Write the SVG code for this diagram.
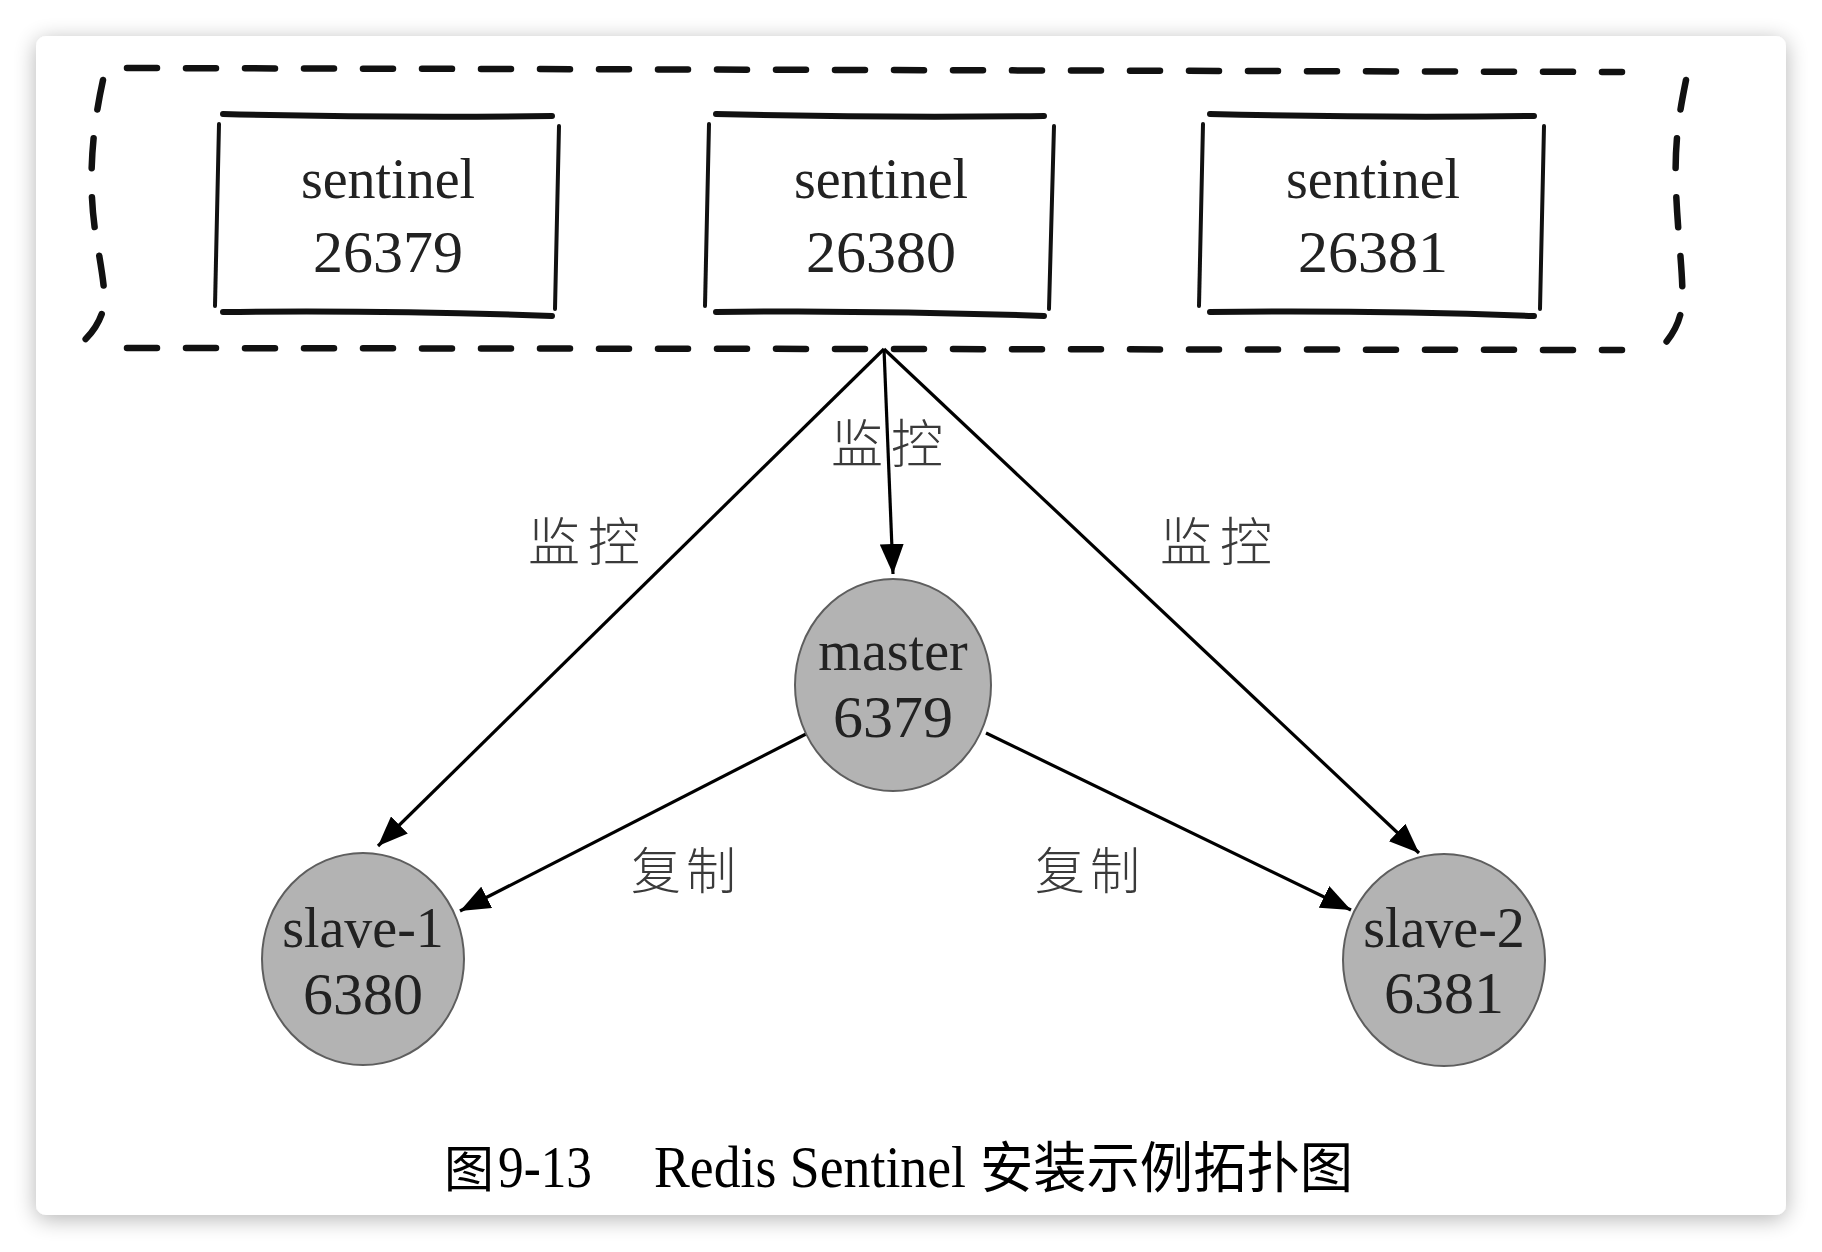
<svg xmlns="http://www.w3.org/2000/svg" width="1822" height="1252" viewBox="0 0 1822 1252">
  <style>
    .hand { fill: none; stroke: #111; stroke-linecap: round; }
    .hz { stroke-width: 6; }
    .vt { stroke-width: 4; }
    .dash { fill: none; stroke: #111; stroke-width: 6.5; stroke-linecap: round; stroke-dasharray: 30 29; }
    .word { font-family: "Liberation Serif", "Times New Roman", serif; font-size: 56px; fill: #222; text-anchor: middle; }
    .num { font-family: "Liberation Serif", "Times New Roman", serif; font-size: 60px; fill: #222; text-anchor: middle; }
    .node { fill: #b3b3b3; stroke: #5e5e5e; stroke-width: 2; }
    .edge { fill: none; stroke: #000; stroke-width: 3.2; marker-end: url(#arrow); }
    .lbl { font-family: "Noto Sans CJK SC", sans-serif; font-weight: 300; font-size: 52px; fill: #3a3a3a; letter-spacing: 8px; }
    .lbl2 { font-family: "Noto Sans CJK SC", sans-serif; font-weight: 300; font-size: 50px; fill: #3a3a3a; letter-spacing: 5px; }
    .cap { font-family: "Liberation Serif", "Noto Sans CJK SC", serif; font-size: 60px; fill: #000; }
    .capcjk { font-family: "Noto Sans CJK SC", sans-serif; font-size: 55px; fill: #000; }
  </style>
  <defs>
    <marker id="arrow" viewBox="0 0 30 24" refX="30" refY="12" markerWidth="30" markerHeight="24" markerUnits="userSpaceOnUse" orient="auto">
      <path d="M0,0 L30,12 L0,24 z" fill="#000"/>
    </marker>
    <filter id="shadow" x="-5%" y="-5%" width="110%" height="110%">
      <feGaussianBlur in="SourceAlpha" stdDeviation="11"/>
      <feOffset dy="4" result="b"/>
      <feComponentTransfer><feFuncA type="linear" slope="0.3"/></feComponentTransfer>
      <feMerge><feMergeNode/><feMergeNode in="SourceGraphic"/></feMerge>
    </filter>
  </defs>

  <rect x="0" y="0" width="1822" height="1252" fill="#ffffff"/>
  <rect id="card" x="36" y="36" width="1750" height="1179" rx="10" fill="#ffffff" filter="url(#shadow)"/>

  <g id="sentinel-group">
    <path class="dash" d="M127,68 L1622,72"/>
    <path class="dash" d="M127,348 L1622,350"/>
    <path class="dash" d="M103,80 C92,130 88,180 95,230 C100,262 106,290 104,306 C100,325 88,338 78,346"/>
    <path class="dash" d="M1686,80 C1680,110 1674,140 1676,190 C1678,240 1684,280 1682,305 C1680,325 1670,338 1662,347"/>
  </g>

  <g id="sentinel-26379">
    <path class="hand hz" d="M223,114 Q390,118 552,116"/>
    <path class="hand hz" d="M223,312 Q390,310 552,316"/>
    <path class="hand vt" d="M219,124 L215,306"/>
    <path class="hand vt" d="M559,126 L555,309"/>
    <text class="word" x="388" y="198">sentinel</text>
    <text class="num" x="388" y="272">26379</text>
  </g>

  <g id="sentinel-26380">
    <path class="hand hz" d="M716,114 Q880,118 1044,116"/>
    <path class="hand hz" d="M716,312 Q880,310 1044,316"/>
    <path class="hand vt" d="M709,124 L705,306"/>
    <path class="hand vt" d="M1054,126 L1049,309"/>
    <text class="word" x="881" y="198">sentinel</text>
    <text class="num" x="881" y="272">26380</text>
  </g>

  <g id="sentinel-26381">
    <path class="hand hz" d="M1210,114 Q1372,118 1534,116"/>
    <path class="hand hz" d="M1210,312 Q1372,310 1534,316"/>
    <path class="hand vt" d="M1203,124 L1199,306"/>
    <path class="hand vt" d="M1544,126 L1540,309"/>
    <text class="word" x="1373" y="198">sentinel</text>
    <text class="num" x="1373" y="272">26381</text>
  </g>

  <g id="connectors">
    <path class="edge" d="M884,349 L378,846"/>
    <path class="edge" d="M884,349 L893,574"/>
    <path class="edge" d="M884,349 L1419,853"/>
    <path class="edge" d="M806,734 L460,911"/>
    <path class="edge" d="M986,733 L1351,910"/>
  </g>

  <g id="edge-labels">
    <text class="lbl" x="528" y="561">监控</text>
    <text class="lbl" x="831" y="463">监控</text>
    <text class="lbl" x="1160" y="561">监控</text>
    <text class="lbl2" x="631" y="889">复制</text>
    <text class="lbl2" x="1035" y="889">复制</text>
  </g>

  <g id="master-6379">
    <ellipse class="node" cx="893" cy="685" rx="98" ry="106"/>
    <text class="word" x="893" y="670">master</text>
    <text class="num" x="893" y="737">6379</text>
  </g>

  <g id="slave-1-6380">
    <ellipse class="node" cx="363" cy="959" rx="101" ry="106"/>
    <text class="word" x="363" y="947">slave-1</text>
    <text class="num" x="363" y="1014">6380</text>
  </g>

  <g id="slave-2-6381">
    <ellipse class="node" cx="1444" cy="960" rx="101" ry="106"/>
    <text class="word" x="1444" y="947">slave-2</text>
    <text class="num" x="1444" y="1013">6381</text>
  </g>

  <g id="caption">
    <text class="capcjk" x="444" y="1187" style="font-size:50px">图</text>
    <text class="cap" x="498" y="1187" textLength="94" lengthAdjust="spacingAndGlyphs">9-13</text>
    <text class="cap" x="654" y="1187" textLength="312" lengthAdjust="spacingAndGlyphs">Redis Sentinel</text>
    <text class="capcjk" x="980" y="1187" textLength="373" lengthAdjust="spacingAndGlyphs">安装示例拓扑图</text>
  </g>
</svg>
